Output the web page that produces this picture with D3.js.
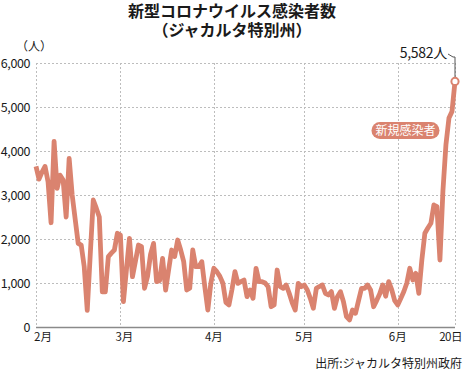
<!DOCTYPE html>
<html>
<head>
<meta charset="utf-8">
<script src="https://d3js.org/d3.v7.min.js"></script>
<style>
  body { margin: 0; background: #fff; }
  svg text { font-family: "Noto Sans CJK JP", "Noto Sans", sans-serif; }
</style>
</head>
<body>
<script>
// daily new cases, Jakarta special region, 2021-02-01 .. 2021-06-20
var startDate = "2021-02-01";
var cases = [
  3650, 3360, 3520, 3650, 3300, 2370, 4220, 3150, 3450, 3340,
  2500, 3830, 3000, 2450, 1900, 1860, 1370, 380, 1650, 2886,
  2700, 2500, 800, 800, 1600, 1680, 1750, 2130, 2090, 575,
  1300, 2016, 1143, 1500, 1864, 1826, 880, 1150, 1650, 1900,
  1030, 1050, 1560, 840, 1300, 1750, 1600, 1977, 1750, 1485,
  840, 880, 1750, 1370, 1370, 1485, 916, 386, 993, 1334,
  1257, 1150, 993, 560, 500, 850, 1257, 993, 1030, 1068,
  689, 840, 652, 1334, 1030, 1030, 1000, 916, 461, 500,
  1295, 916, 880, 955, 766, 550, 386, 993, 916, 955,
  840, 650, 425, 880, 920, 955, 766, 727, 803, 425,
  689, 803, 575, 234, 160, 386, 311, 600, 880, 880,
  955, 840, 461, 600, 750, 955, 700, 1030, 850, 600,
  500, 650, 800, 993, 1334, 1068, 1220, 766, 1523, 2130,
  2250, 2357, 2773, 2735, 1523, 3100, 4150, 4750, 4900, 5582
];
var yTicks = [0, 1000, 2000, 3000, 4000, 5000, 6000];
var xTickDates = ["2021-02-01", "2021-03-01", "2021-04-01", "2021-05-01", "2021-06-01", "2021-06-20"];
var xTickLabels = ["2月", "3月", "4月", "5月", "6月", "20日"];
var titleLines = ["新型コロナウイルス感染者数", "（ジャカルタ特別州）"];
var unitLabel = "（人）";
var seriesName = "新規感染者";
var sourceText = "出所:ジャカルタ特別州政府";

var W = 465, H = 375;
var plotL = 36, plotR = 455, plotT = 63, plotB = 327;
var lineColor = "#da836f";

var parse = d3.utcParse("%Y-%m-%d");
var t0 = parse(startDate);
var data = cases.map(function(v, i) {
  return { date: d3.utcDay.offset(t0, i), value: v };
});

var x = d3.scaleUtc()
  .domain([t0, data[data.length - 1].date])
  .range([plotL, plotR]);
var y = d3.scaleLinear().domain([0, 6000]).range([plotB, plotT]);

var svg = d3.select("body").append("svg")
  .attr("width", W)
  .attr("height", H);

// title
svg.append("g").selectAll("text")
  .data(titleLines)
  .enter().append("text")
    .attr("x", 232)
    .attr("y", function(d, i) { return 17 + i * 19; })
    .attr("text-anchor", "middle")
    .attr("font-size", 16)
    .attr("font-weight", "bold")
    .attr("fill", "#1a1a1a")
    .text(function(d) { return d; });

// grid
var grid = svg.append("g")
  .attr("stroke", "#bdbdbd")
  .attr("stroke-width", 1)
  .attr("stroke-dasharray", "2,2");

grid.selectAll(".hg")
  .data(yTicks.filter(function(d) { return d > 0; }))
  .enter().append("line")
    .attr("x1", plotL).attr("x2", plotR)
    .attr("y1", function(d) { return Math.round(y(d)) + 0.5; })
    .attr("y2", function(d) { return Math.round(y(d)) + 0.5; });

grid.selectAll(".vg")
  .data(xTickDates)
  .enter().append("line")
    .attr("x1", function(d) { return Math.round(x(parse(d))) + 0.5; })
    .attr("x2", function(d) { return Math.round(x(parse(d))) + 0.5; })
    .attr("y1", plotT).attr("y2", plotB);

// y axis labels
var yAxis = svg.append("g")
  .attr("transform", "translate(" + (plotL - 3) + ",0)")
  .call(d3.axisLeft(y).tickValues(yTicks).tickSize(0).tickFormat(d3.format(",")));
yAxis.select(".domain").remove();
yAxis.selectAll("text")
  .attr("font-size", 12.5)
  .attr("letter-spacing", -0.4)
  .attr("fill", "#1a1a1a")
  .attr("dy", "0.35em");

svg.append("text")
  .attr("x", 16)
  .attr("y", 51)
  .attr("font-size", 12)
  .attr("fill", "#1a1a1a")
  .text(unitLabel);

// x axis
svg.append("line")
  .attr("x1", plotL).attr("x2", plotR)
  .attr("y1", plotB + 0.5).attr("y2", plotB + 0.5)
  .attr("stroke", "#8a8a8a")
  .attr("stroke-width", 1.5);

var lastTick = xTickDates.length - 1;
svg.append("g").selectAll("text")
  .data(xTickDates)
  .enter().append("text")
    .attr("x", function(d, i) {
      if (i === 0) return plotL - 2;
      if (i === lastTick) return 462;
      return x(parse(d)) + (i === 1 ? 4 : 0);
    })
    .attr("y", 341)
    .attr("text-anchor", function(d, i) { return i === 0 ? "start" : (i === lastTick ? "end" : "middle"); })
    .attr("font-size", 11.5)
    .attr("letter-spacing", function(d, i) { return i === lastTick ? -0.5 : 0; })
    .attr("fill", "#1a1a1a")
    .text(function(d, i) { return xTickLabels[i]; });

// series line
svg.append("path")
  .datum(data)
  .attr("fill", "none")
  .attr("stroke", lineColor)
  .attr("stroke-width", 4.8)
  .attr("stroke-linejoin", "round")
  .attr("d", d3.line()
    .x(function(d) { return x(d.date); })
    .y(function(d) { return y(d.value); }));

// last point annotation
var last = data[data.length - 1];
var lx = x(last.date), ly = y(last.value);
svg.append("path")
  .attr("fill", "none")
  .attr("stroke", "#555")
  .attr("stroke-width", 1)
  .attr("d", "M" + (lx - 7) + "," + 54 + "L" + (lx - 2) + "," + 57 + "L" + lx + "," + 57 + "L" + lx + "," + (ly - 4));
svg.append("circle")
  .attr("cx", lx)
  .attr("cy", ly)
  .attr("r", 3.6)
  .attr("fill", "#fff")
  .attr("stroke", lineColor)
  .attr("stroke-width", 2);
svg.append("text")
  .attr("x", lx - 8)
  .attr("y", 58)
  .attr("text-anchor", "end")
  .attr("font-size", 14)
  .attr("letter-spacing", -0.3)
  .attr("fill", "#1a1a1a")
  .text(d3.format(",")(last.value) + "人");

// series label pill
var pill = svg.append("g").attr("transform", "translate(405.5,130.5)");
pill.append("rect")
  .attr("x", -34).attr("y", -8.5)
  .attr("width", 68).attr("height", 17)
  .attr("rx", 8.5)
  .attr("fill", lineColor);
pill.append("text")
  .attr("y", 4.5)
  .attr("text-anchor", "middle")
  .attr("font-size", 12)
  .attr("fill", "#fff")
  .text(seriesName);

// source
svg.append("text")
  .attr("x", 462)
  .attr("y", 368)
  .attr("text-anchor", "end")
  .attr("font-size", 12)
  .attr("fill", "#1a1a1a")
  .text(sourceText);
</script>
</body>
</html>
